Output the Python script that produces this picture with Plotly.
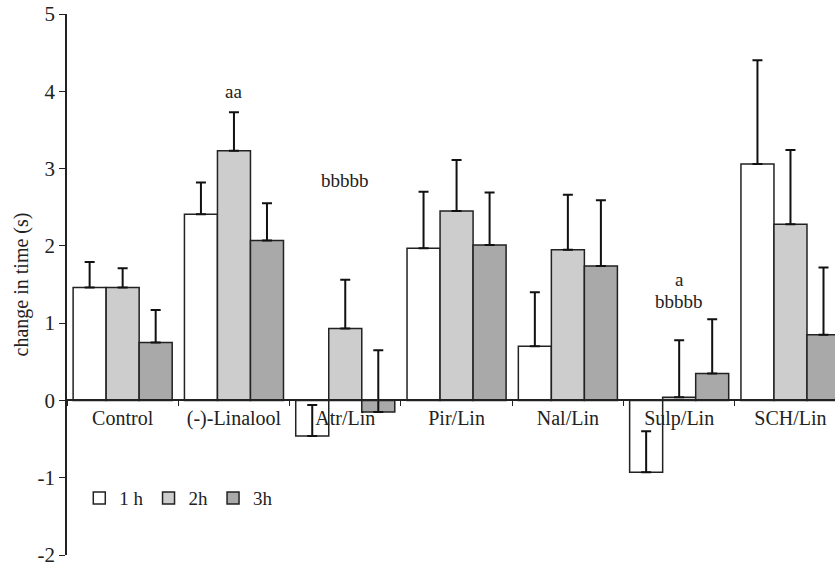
import plotly.graph_objects as go

categories = ["Control", "(-)-Linalool", "Atr/Lin", "Pir/Lin", "Nal/Lin", "Sulp/Lin", "SCH/Lin"]
series_names = ["1 h", "2h", "3h"]
vals_1h = [1.46, 2.41, -0.46, 1.97, 0.70, -0.93, 3.06]
err_1h = [0.33, 0.41, 0.40, 0.73, 0.70, 0.53, 1.34]
vals_2h = [1.46, 3.23, 0.93, 2.45, 1.95, 0.04, 2.28]
err_2h = [0.25, 0.50, 0.63, 0.66, 0.71, 0.74, 0.96]
vals_3h = [0.75, 2.07, -0.15, 2.01, 1.74, 0.35, 0.85]
err_3h = [0.42, 0.48, 0.80, 0.68, 0.85, 0.70, 0.87]
colors = ["#ffffff", "#cdcdcd", "#a9a9a9"]

y_tickvals = [-2, -1, 0, 1, 2, 3, 4, 5]
y_ticktext = ["-2", "-1", "0", "1", "2", "3", "4", "5"]

annot_cats = ["(-)-Linalool", "Atr/Lin", "Sulp/Lin", "Sulp/Lin"]
annot_y = [4.0, 2.85, 1.56, 1.28]
annot_text = ["aa", "bbbbb", "a", "bbbbb"]

font_family = "Liberation Serif, Times New Roman, serif"

fig = go.Figure()
for name, v, e, c in zip(series_names, [vals_1h, vals_2h, vals_3h], [err_1h, err_2h, err_3h], colors):
    fig.add_trace(go.Bar(
        x=categories, y=v, name=name,
        marker=dict(color=c, line=dict(color="#222222", width=1.5)),
        error_y=dict(type="data", array=e, arrayminus=[0] * len(e), symmetric=False,
                     color="#111111", thickness=2, width=5),
    ))

for cx, cy, t in zip(annot_cats, annot_y, annot_text):
    fig.add_annotation(x=cx, y=cy, text=t, showarrow=False,
                       font=dict(family=font_family, size=19, color="#222222"))

fig.update_layout(
    width=835, height=566,
    margin=dict(l=67, r=0, t=14, b=11),
    paper_bgcolor="white", plot_bgcolor="white",
    barmode="group", bargap=0.11, bargroupgap=0,
    font=dict(family=font_family, color="#222222"),
    showlegend=True,
    legend=dict(orientation="h", x=0.016, y=0.105, xanchor="left", yanchor="middle",
                font=dict(family=font_family, size=19), bgcolor="rgba(0,0,0,0)",
                itemwidth=30, tracegroupgap=0),
    xaxis=dict(
        type="category", range=[-0.5, 6.4],
        anchor="free", position=2 / 7, automargin=False,
        showline=True, linecolor="#222222", linewidth=1.5,
        ticks="outside", tickson="boundaries", ticklen=5, tickcolor="#222222",
        tickfont=dict(family=font_family, size=20, color="#222222"),
        showgrid=False, zeroline=False,
    ),
    yaxis=dict(
        range=[-2, 5], tickvals=y_tickvals, ticktext=y_ticktext,
        ticklabeloverflow="allow", automargin=False,
        showline=True, linecolor="#222222", linewidth=1.5,
        ticks="outside", ticklen=6, tickcolor="#222222",
        tickfont=dict(family=font_family, size=21, color="#222222"),
        showgrid=False, zeroline=False,
        title=dict(text="change in time (s)", font=dict(family=font_family, size=20, color="#222222"),
                   standoff=4),
    ),
)

fig.write_html("out.html")
